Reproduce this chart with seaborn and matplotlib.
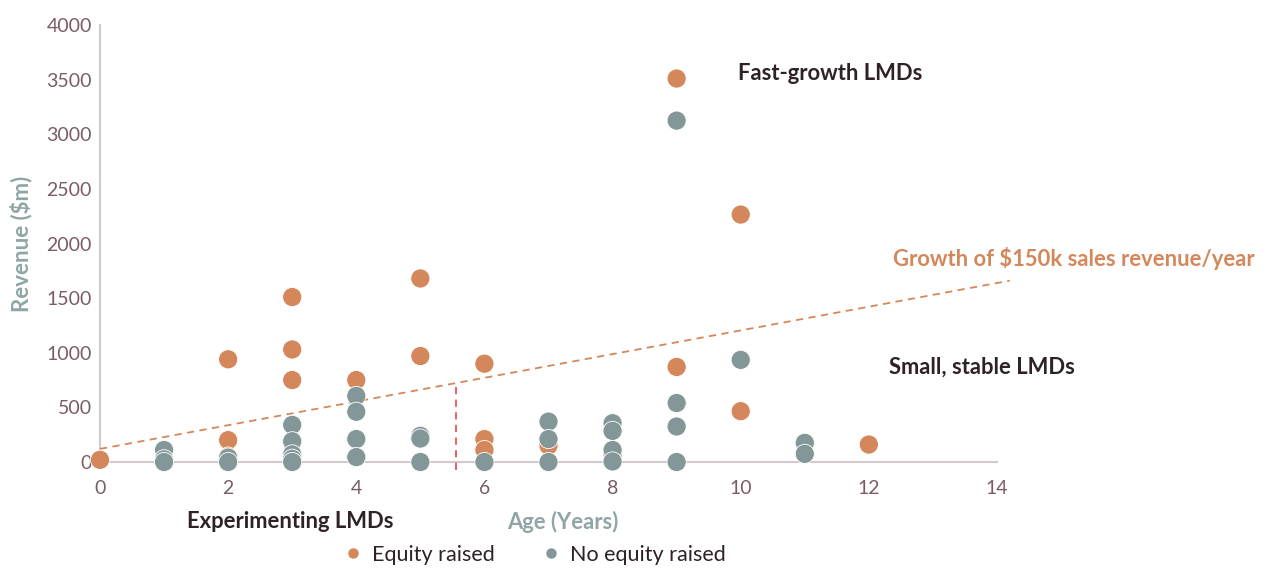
import numpy as np
import pandas as pd

import seaborn as sns
import matplotlib.pyplot as plt

# Data
equity_age = [0, 2, 2, 2, 3, 3, 3, 3, 4, 5, 5, 6, 6, 6, 7, 8, 8, 9, 9, 10, 10, 12]
equity_rev = [20, 940, 200, 50, 1510, 1030, 750, 175, 750, 1680, 970, 900, 210, 110, 150, 40, 70, 3510, 870, 2265, 465, 160]

no_equity_age = [1, 1, 1, 2, 2, 3, 3, 3, 3, 3, 4, 4, 4, 4, 5, 5, 5, 6, 7, 7, 7, 8, 8, 8, 8, 9, 9, 9, 9, 10, 11, 11]
no_equity_rev = [110, 25, 0, 40, 0, 340, 190, 70, 30, 0, 605, 460, 210, 45, 240, 215, 0, 0, 370, 210, 0, 355, 285, 110, 5, 3125, 540, 325, 0, 935, 175, 75]

trend_x = [0, 14.2]
trend_y = [120, 1660]

cutoff_x = [5.56, 5.56]
cutoff_y = [-70, 726]

orange = '#d4875a'
grey = '#849798'
tick_col = '#7a5c66'
label_col = '#8fa5a6'
dark = '#2e2226'

df = pd.DataFrame({
    'age': equity_age + no_equity_age,
    'revenue': equity_rev + no_equity_rev,
    'group': ['Equity raised'] * len(equity_age) + ['No equity raised'] * len(no_equity_age),
})

sns.set_style('white')
plt.rcParams['font.family'] = ['Lato', 'DejaVu Sans']

fig = plt.figure(figsize=(12.66, 5.68), dpi=100)
ax = fig.add_axes([0.079, 0.1866, 0.7085, 0.7694])

ax.plot(trend_x, trend_y, color=orange, lw=1.3, ls=(0, (4, 3)), clip_on=False, zorder=1)
ax.plot(cutoff_x, cutoff_y, color='#e8545a', lw=1.3, ls=(0, (4, 3)), clip_on=False, zorder=1)

sns.scatterplot(data=df, x='age', y='revenue', hue='group',
                palette={'Equity raised': orange, 'No equity raised': grey},
                s=190, edgecolor='white', linewidth=0.6, alpha=1,
                ax=ax, clip_on=False, zorder=3, legend=False)

ax.set_xlim(0, 14)
ax.set_ylim(0, 4000)
ax.set_xticks(range(0, 15, 2))
ax.set_yticks(range(0, 4001, 500))
ax.tick_params(axis='both', length=0, labelsize=14, labelcolor=tick_col)
ax.tick_params(axis='x', pad=13)
ax.tick_params(axis='y', pad=6)

for side in ['top', 'right']:
    ax.spines[side].set_visible(False)
for side in ['left', 'bottom']:
    ax.spines[side].set_color('#d3c8cc')
    ax.spines[side].set_linewidth(1.5)
ax.spines['bottom'].set_zorder(0)
ax.spines['left'].set_zorder(0)

ax.set_xlabel('')
ax.set_ylabel('Revenue ($m)', fontsize=16, fontweight='bold', color=label_col, labelpad=10)

fs = 15.8
fig.text(563 / 1266, 1 - 522 / 568, 'Age (Years)', fontsize=fs, fontweight='bold',
         color=label_col, ha='center', va='center')
fig.text(290 / 1266, 1 - 522 / 568, 'Experimenting LMDs', fontsize=fs, fontweight='bold',
         color=dark, ha='center', va='center')
fig.text(830 / 1266, 1 - 73 / 568, 'Fast-growth LMDs', fontsize=fs, fontweight='bold',
         color=dark, ha='center', va='center')
fig.text(982 / 1266, 1 - 367 / 568, 'Small, stable LMDs', fontsize=fs, fontweight='bold',
         color=dark, ha='center', va='center')
fig.text(1074 / 1266, 1 - 259 / 568, 'Growth of $150k sales revenue/year', fontsize=fs,
         fontweight='bold', color=orange, ha='center', va='center')

# legend at the bottom
handles = [plt.Line2D([], [], marker='o', ls='', color=orange, markersize=6.5),
           plt.Line2D([], [], marker='o', ls='', color=grey, markersize=6.5)]
fig.legend(handles, ['Equity raised', 'No equity raised'], loc='center',
           bbox_to_anchor=(535 / 1266, 1 - 555 / 568), ncol=2, frameon=False,
           fontsize=15.5, handlelength=0.8, handletextpad=0.5, columnspacing=2.2,
           labelcolor=dark)

fig.savefig('out.png', dpi=100)
